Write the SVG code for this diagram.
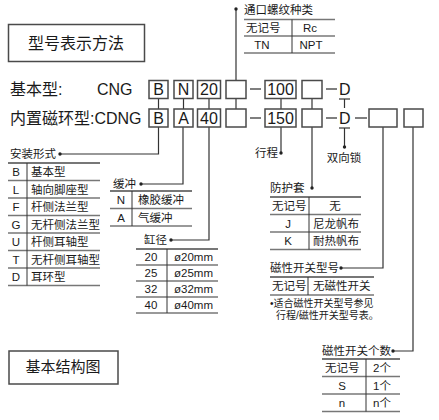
<svg xmlns="http://www.w3.org/2000/svg" width="439" height="420" viewBox="0 0 439 420">
<style>
text{font-family:"Liberation Sans","Noto Sans CJK SC",sans-serif;fill:#1a1a1a}
.t16{font-size:16px}
.t15{font-size:15px}
.t11{font-size:11.5px}
.t10{font-size:10px}
.c{text-anchor:middle}
.box{fill:#fff;stroke:#4a4a4a;stroke-width:1.5}
.tl{stroke:#777;stroke-width:1.5;fill:none}
.tt{stroke:#777;stroke-width:2;fill:none}
.dv{stroke:#333;stroke-width:1;fill:none}
.ln{stroke:#333;stroke-width:1.2;fill:none}
.dash{stroke:#555;stroke-width:1.5}
.dot{fill:#222}
</style>
<rect width="439" height="420" fill="#fff"/>

<g id="title">
<rect class="box" x="8.5" y="24.5" width="136" height="37"/>
<text class="t16 c" x="76" y="49">型号表示方法</text>
</g>
<g id="title2">
<rect class="box" x="9" y="351" width="109" height="33"/>
<text class="t15 c" x="63" y="372">基本结构图</text>
</g>

<g id="connectors">
<!-- vertical links between rows -->
<line class="ln" x1="158.5" y1="98" x2="158.5" y2="109"/>
<line class="ln" x1="183.5" y1="98" x2="183.5" y2="109"/>
<line class="ln" x1="209" y1="98" x2="209" y2="109"/>
<line class="ln" x1="236" y1="98" x2="236" y2="109"/>
<line class="ln" x1="281" y1="98" x2="281" y2="109"/>
<line class="ln" x1="312" y1="98" x2="312" y2="109"/>
<!-- port thread -->
<polyline class="ln" points="236,80 236,9"/>
<circle class="dot" cx="236" cy="9" r="1.7"/>
<!-- mounting -->
<polyline class="ln" points="158.5,127 158.5,154 60,154"/>
<circle class="dot" cx="60" cy="154" r="1.7"/>
<!-- cushion -->
<polyline class="ln" points="183,127 183,184 141,184"/>
<circle class="dot" cx="141" cy="184" r="1.7"/>
<!-- bore -->
<polyline class="ln" points="209,127 209,240 171,240"/>
<circle class="dot" cx="171" cy="240" r="1.7"/>
<!-- stroke -->
<polyline class="ln" points="281,127 281,153"/>
<circle class="dot" cx="281" cy="153" r="1.7"/>
<!-- boot -->
<polyline class="ln" points="312,127 312,188"/>
<circle class="dot" cx="312" cy="188" r="1.7"/>
<!-- double lock -->
<line class="ln" x1="339" y1="99" x2="350" y2="99"/>
<line class="ln" x1="344.5" y1="99" x2="344.5" y2="108"/>
<line class="ln" x1="339" y1="128" x2="350" y2="128"/>
<line class="ln" x1="344.5" y1="128" x2="344.5" y2="147"/>
<circle class="dot" cx="344.5" cy="147" r="1.7"/>
<!-- switch type -->
<polyline class="ln" points="383,127 383,268 341,268"/>
<circle class="dot" cx="341" cy="268" r="1.7"/>
<!-- switch count -->
<polyline class="ln" points="413,127 413,351 393,351"/>
<circle class="dot" cx="393" cy="351" r="1.7"/>
<!-- dashes -->
<line class="dash" x1="250" y1="89" x2="261" y2="89"/>
<line class="dash" x1="250" y1="118" x2="261" y2="118"/>
<line class="dash" x1="326" y1="89" x2="337" y2="89"/>
<line class="dash" x1="326" y1="118" x2="337" y2="118"/>
<line class="dash" x1="355" y1="118" x2="367" y2="118"/>
</g>

<g id="row1">
<text class="t16" x="10" y="95">基本型:</text>
<text class="t16" x="97" y="95">CNG</text>
<rect class="box" x="149" y="80.5" width="19" height="18"/>
<text class="t16 c" x="158.5" y="95">B</text>
<rect class="box" x="174" y="80.5" width="19" height="18"/>
<text class="t16 c" x="183.5" y="95">N</text>
<rect class="box" x="197.5" y="80.5" width="23" height="18"/>
<text class="t16 c" x="209" y="95">20</text>
<rect class="box" x="226" y="80.5" width="20" height="18"/>
<rect class="box" x="265" y="80.5" width="31" height="18"/>
<text class="t16 c" x="280.5" y="95">100</text>
<rect class="box" x="302" y="80.5" width="20" height="18"/>
<text class="t16" x="339" y="95">D</text>
</g>

<g id="row2">
<text class="t16" x="10" y="124">内置磁环型:CDNG</text>
<rect class="box" x="149" y="109" width="19" height="18"/>
<text class="t16 c" x="158.5" y="123.5">B</text>
<rect class="box" x="174" y="109" width="19" height="18"/>
<text class="t16 c" x="183.5" y="123.5">A</text>
<rect class="box" x="197.5" y="109" width="23" height="18"/>
<text class="t16 c" x="209" y="123.5">40</text>
<rect class="box" x="226" y="109" width="20" height="18"/>
<rect class="box" x="265" y="109" width="31" height="18"/>
<text class="t16 c" x="280.5" y="123.5">150</text>
<rect class="box" x="302" y="109" width="20" height="18"/>
<text class="t16" x="339" y="123.5">D</text>
<rect class="box" x="369" y="109" width="28" height="18"/>
<rect class="box" x="404" y="109" width="19" height="18"/>
</g>

<g id="port-thread">
<text class="t11" x="244" y="14">通口螺纹种类</text>
<line class="tl" x1="244" y1="19.5" x2="335" y2="19.5"/>
<line class="tl" x1="244" y1="36" x2="335" y2="36"/>
<line class="tl" x1="244" y1="53" x2="335" y2="53"/>
<line class="dv" x1="292" y1="19.5" x2="292" y2="53"/>
<text class="t11" x="246" y="32">无记号</text>
<text class="t11 c" x="310" y="32">Rc</text>
<text class="t11 c" x="262" y="49">TN</text>
<text class="t11 c" x="311" y="49">NPT</text>
</g>

<g id="mounting">
<text class="t11" x="10" y="158">安装形式</text>
<line class="tt" x1="8" y1="163" x2="100" y2="163"/>
<line class="tl" x1="8" y1="180.5" x2="100" y2="180.5"/>
<line class="tl" x1="8" y1="198" x2="100" y2="198"/>
<line class="tl" x1="8" y1="215.5" x2="100" y2="215.5"/>
<line class="tl" x1="8" y1="233" x2="100" y2="233"/>
<line class="tl" x1="8" y1="250.5" x2="100" y2="250.5"/>
<line class="tl" x1="8" y1="268" x2="100" y2="268"/>
<line class="tl" x1="8" y1="285.5" x2="100" y2="285.5"/>
<line class="dv" x1="27" y1="163" x2="27" y2="285.5"/>
<text class="t11 c" x="16" y="176">B</text><text class="t11" x="31" y="176">基本型</text>
<text class="t11 c" x="16" y="193.5">L</text><text class="t11" x="31" y="193.5">轴向脚座型</text>
<text class="t11 c" x="16" y="211">F</text><text class="t11" x="31" y="211">杆侧法兰型</text>
<text class="t11 c" x="16" y="228.5">G</text><text class="t11" x="31" y="228.5">无杆侧法兰型</text>
<text class="t11 c" x="16" y="246">U</text><text class="t11" x="31" y="246">杆侧耳轴型</text>
<text class="t11 c" x="16" y="263.5">T</text><text class="t11" x="31" y="263.5">无杆侧耳轴型</text>
<text class="t11 c" x="16" y="281">D</text><text class="t11" x="31" y="281">耳环型</text>
</g>

<g id="cushion">
<text class="t11" x="113" y="188">缓冲</text>
<line class="tt" x1="110" y1="191" x2="192" y2="191"/>
<line class="tl" x1="110" y1="208.5" x2="192" y2="208.5"/>
<line class="tl" x1="110" y1="226" x2="192" y2="226"/>
<line class="dv" x1="132" y1="191" x2="132" y2="226"/>
<text class="t11 c" x="121" y="204">N</text><text class="t11" x="138" y="204">橡胶缓冲</text>
<text class="t11 c" x="121" y="221.5">A</text><text class="t11" x="138" y="221.5">气缓冲</text>
</g>

<g id="bore">
<text class="t11" x="144" y="244">缸径</text>
<line class="tt" x1="136" y1="249" x2="218" y2="249"/>
<line class="tl" x1="136" y1="265" x2="218" y2="265"/>
<line class="tl" x1="136" y1="281" x2="218" y2="281"/>
<line class="tl" x1="136" y1="297" x2="218" y2="297"/>
<line class="tl" x1="136" y1="313" x2="218" y2="313"/>
<line class="dv" x1="167" y1="249" x2="167" y2="313"/>
<text class="t11 c" x="151" y="261">20</text><text class="t11" x="174" y="261">ø20mm</text>
<text class="t11 c" x="151" y="277">25</text><text class="t11" x="174" y="277">ø25mm</text>
<text class="t11 c" x="151" y="293">32</text><text class="t11" x="174" y="293">ø32mm</text>
<text class="t11 c" x="151" y="309">40</text><text class="t11" x="174" y="309">ø40mm</text>
</g>

<g id="stroke">
<text class="t11" x="255" y="157">行程</text>
</g>

<g id="double-lock">
<text class="t11 c" x="344" y="162">双向锁</text>
</g>

<g id="boot">
<text class="t11" x="270" y="192">防护套</text>
<line class="tt" x1="270" y1="197" x2="361" y2="197"/>
<line class="tl" x1="270" y1="214.5" x2="361" y2="214.5"/>
<line class="tl" x1="270" y1="232" x2="361" y2="232"/>
<line class="tl" x1="270" y1="249.5" x2="361" y2="249.5"/>
<line class="dv" x1="309" y1="197" x2="309" y2="249.5"/>
<text class="t11" x="272" y="210">无记号</text><text class="t11 c" x="335" y="210">无</text>
<text class="t11 c" x="288" y="227.5">J</text><text class="t11" x="313" y="227.5">尼龙帆布</text>
<text class="t11 c" x="288" y="245">K</text><text class="t11" x="313" y="245">耐热帆布</text>
</g>

<g id="switch-type">
<text class="t11" x="270" y="272">磁性开关型号</text>
<line class="tt" x1="270" y1="277" x2="374" y2="277"/>
<line class="tl" x1="270" y1="295" x2="374" y2="295"/>
<line class="dv" x1="308" y1="277" x2="308" y2="295"/>
<text class="t11" x="272" y="290">无记号</text><text class="t11" x="313" y="290">无磁性开关</text>
<text class="t10" x="270" y="306.5">•适合磁性开关型号参见</text>
<text class="t10" x="276" y="318.5">行程/磁性开关型号表。</text>
</g>

<g id="switch-count">
<text class="t11" x="322" y="355">磁性开关个数</text>
<line class="tt" x1="322" y1="359" x2="400" y2="359"/>
<line class="tl" x1="322" y1="376.5" x2="400" y2="376.5"/>
<line class="tl" x1="322" y1="394" x2="400" y2="394"/>
<line class="tl" x1="322" y1="411.5" x2="400" y2="411.5"/>
<line class="dv" x1="366" y1="359" x2="366" y2="411.5"/>
<text class="t11" x="325" y="372">无记号</text><text class="t11" x="373" y="372">2个</text>
<text class="t11 c" x="342" y="389.5">S</text><text class="t11" x="373" y="389.5">1个</text>
<text class="t11 c" x="342" y="407">n</text><text class="t11" x="373" y="407">n个</text>
</g>
</svg>
